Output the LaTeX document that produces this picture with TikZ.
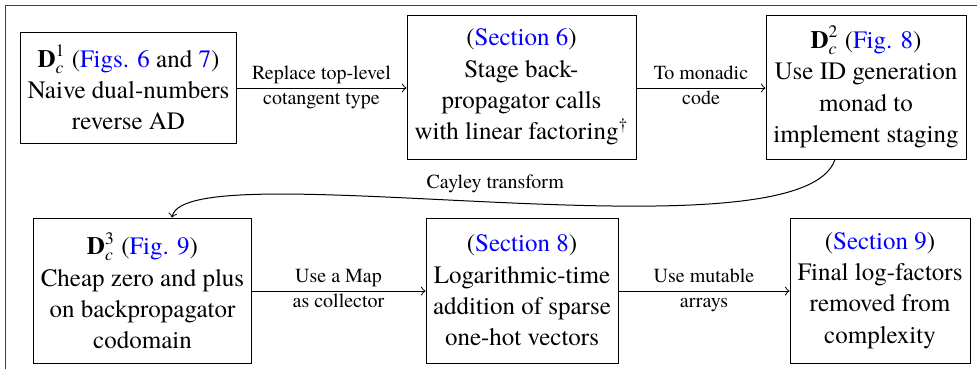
\documentclass[tikz,border=0pt]{standalone}
\usepackage{amsmath}
\usepackage{fontspec}
\setmainfont{texgyretermes}[Extension=.otf, UprightFont=*-regular, BoldFont=*-bold, ItalicFont=*-italic, BoldItalicFont=*-bolditalic]
\newcommand\lnk[1]{\textcolor{blue}{#1}}
\newcommand\Dc[1]{$\textbf{D}^{\text{#1}}_{\textit{c}}$}
\tikzset{
  stepbox/.style={draw, align=center, inner sep=0pt, font=\fontsize{10}{12.5}\selectfont},
  lab/.style={font=\fontsize{8}{9.6}\selectfont, inner sep=0pt, text height=5.5pt, text depth=1.7pt},
  labup/.style={lab, above=1.4pt},
  labdown/.style={lab, below=0.9pt},
  conn/.style={->},
}
\begin{document}
\begin{tikzpicture}[x=0.4pt, y=-0.4pt]
\useasboundingbox (0,0) rectangle (977,369);
\coordinate (fa) at (5,369);
\coordinate (fb) at (5,5.5);
\coordinate (fc) at (977,5.5);
\draw[black!75] (fa) -- (fb) -- (fc);

\node[stepbox, minimum width=86pt, minimum height=44.4pt] (d1) at (128.5,87.5)
  {\Dc{1} (\lnk{Figs. 6} and \lnk{7})\\Naive dual-numbers\\reverse AD};
\node[stepbox, minimum width=91.6pt, minimum height=57.6pt] (s6) at (521.5,87)
  {(\lnk{Section 6})\\Stage back-\\propagator calls\\with linear factoring\textsuperscript{\dag}};
\node[stepbox, minimum width=80pt, minimum height=57.6pt] (d2) at (866,87)
  {\Dc{2} (\lnk{Fig. 8})\\Use ID generation\\monad to\\implement staging};
\node[stepbox, minimum width=86.8pt, minimum height=58pt] (d3) at (142.5,290.5)
  {\Dc{3} (\lnk{Fig. 9})\\Cheap zero and plus\\on backpropagator\\codomain};
\node[stepbox, minimum width=76.8pt, minimum height=58pt] (s8) at (522,290.5)
  {(\lnk{Section 8})\\Logarithmic-time\\addition of sparse\\one-hot vectors};
\node[stepbox, minimum width=72pt, minimum height=58pt] (s9) at (880,290.5)
  {(\lnk{Section 9})\\Final log-factors\\removed from\\complexity};

\draw[conn] (d1.east |- 0,88) -- (s6.west |- 0,88)
  node[labup, midway] {Replace top-level}
  node[labdown, midway] {cotangent type};
\draw[conn] (s6.east |- 0,88) -- (d2.west |- 0,88)
  node[labup, midway] {To monadic}
  node[labdown, midway] {code};
\draw[conn] (d3.east |- 0,291) -- (s8.west |- 0,291)
  node[labup, midway] {Use a Map}
  node[labdown, midway] {as collector};
\draw[conn] (s8.east |- 0,291) -- (s9.west |- 0,291)
  node[labup, midway] {Use mutable}
  node[labdown, midway] {arrays};

\draw[conn] ([xshift=-12.4pt]d2.south) .. controls +(-35,105) and +(13,-68) .. ([xshift=11.8pt]d3.north)
  node[lab, pos=0.5, above=3.5pt] {Cayley transform};
\end{tikzpicture}
\end{document}
